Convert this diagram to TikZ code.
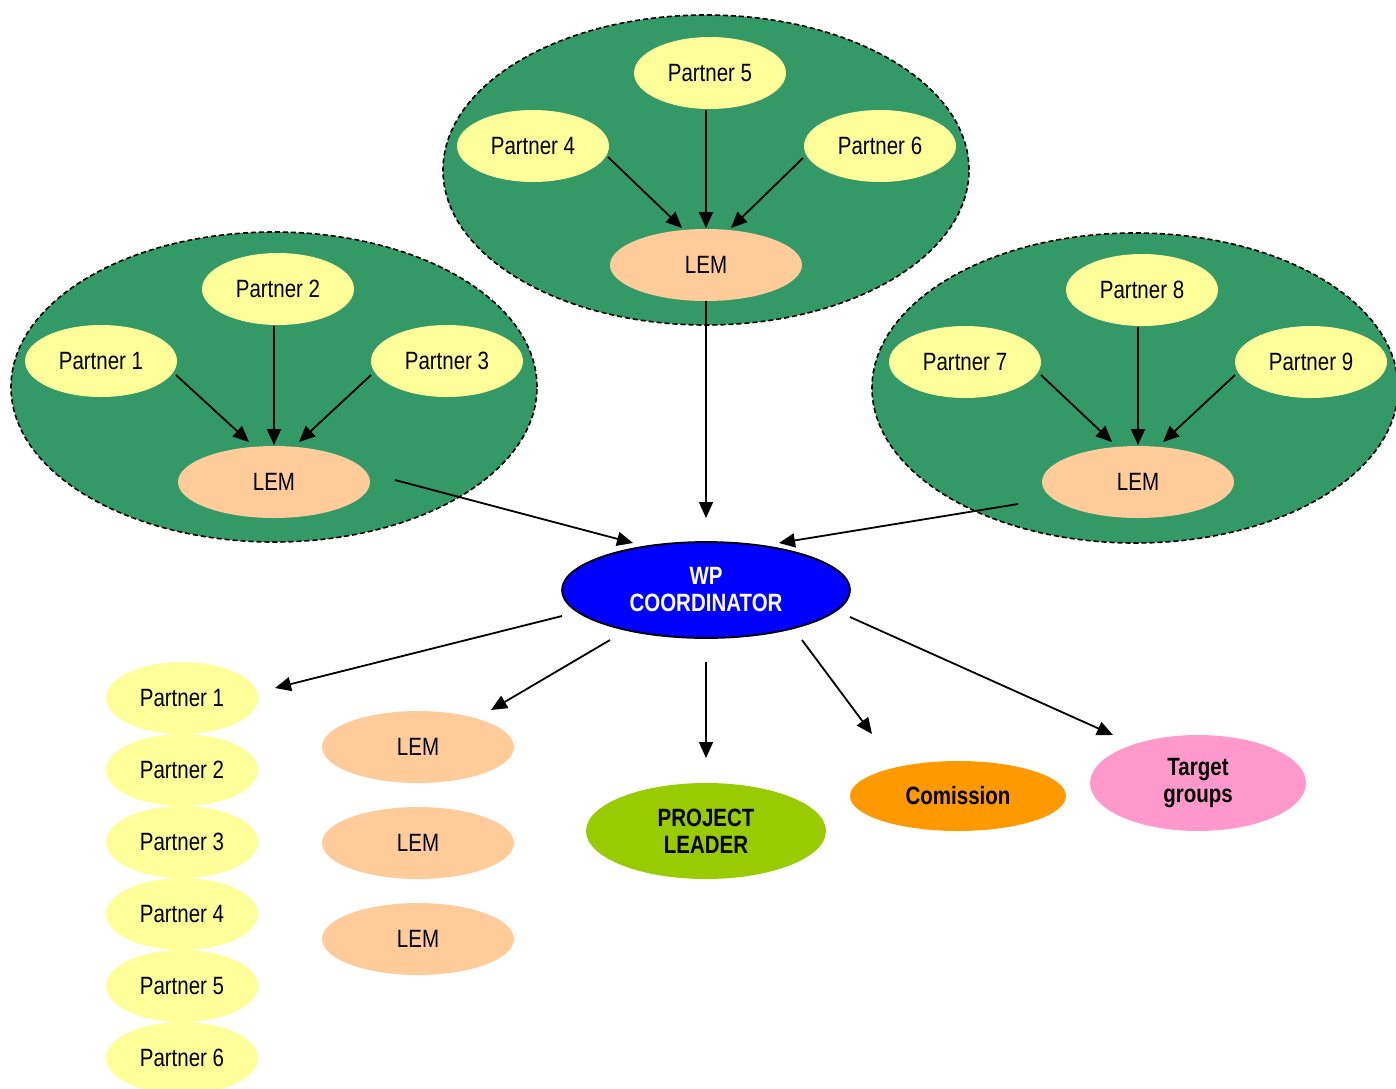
\documentclass[tikz,border=0pt]{standalone}
\usepackage{fontspec}
\setmainfont[FakeStretch=0.82]{Liberation Sans}
\usetikzlibrary{shapes.geometric,arrows.meta,calc}
\definecolor{clgreen}{HTML}{339966}
\definecolor{ptyellow}{HTML}{FFFF99}
\definecolor{lempeach}{HTML}{FFCC99}
\definecolor{wpblue}{HTML}{0000FF}
\definecolor{plgreen}{HTML}{99CC00}
\definecolor{comorange}{HTML}{FF9900}
\definecolor{tgpink}{HTML}{FF99CC}
\begin{document}
\begin{tikzpicture}[x=0.5pt,y=-0.5pt,
  every node/.style={font=\fontsize{12.5}{13.5}\selectfont, align=center},
  cluster/.style={ellipse, fill=clgreen, draw=black, dash pattern=on 2.5pt off 1.5pt, line width=0.8pt, minimum width=263pt, minimum height=155pt, inner sep=0pt},
  ptnode/.style={ellipse, fill=ptyellow, minimum width=76pt, minimum height=36pt, inner sep=0pt},
  lemnode/.style={ellipse, fill=lempeach, minimum width=96pt, minimum height=36pt, inner sep=0pt},
  bignode/.style={ellipse, inner sep=0pt, font=\fontsize{12.5}{13.5}\selectfont\bfseries},
  arr/.style={line width=0.9pt, -{Triangle[length=8pt,width=7pt]}}
]
\useasboundingbox (0,0) rectangle (1396,1088);

% clusters
\node[cluster] (cT) at (706,170) {};
\node[cluster] (cL) at (274,387) {};
\node[cluster] (cR) at (1135,388) {};

% top cluster
\node[ptnode] (p5) at (710,73) {Partner 5};
\node[ptnode] (p4) at (533,146) {Partner 4};
\node[ptnode] (p6) at (880,146) {Partner 6};
\node[lemnode] (lemT) at (706,265) {LEM};

% left cluster
\node[ptnode] (p2) at (278,289) {Partner 2};
\node[ptnode] (p1) at (101,361) {Partner 1};
\node[ptnode] (p3) at (447,361) {Partner 3};
\node[lemnode] (lemL) at (274,482) {LEM};

% right cluster
\node[ptnode] (p8) at (1142,290) {Partner 8};
\node[ptnode] (p7) at (965,362) {Partner 7};
\node[ptnode] (p9) at (1311,362) {Partner 9};
\node[lemnode] (lemR) at (1138,482) {LEM};

% coordinator
\node[bignode, fill=wpblue, draw=black, line width=0.9pt, text=white, minimum width=144pt, minimum height=48pt] (wp) at (706,590) {WP\\COORDINATOR};

% bottom column of partners
\node[ptnode] (b1) at (182,698) {Partner 1};
\node[ptnode] (b2) at (182,770) {Partner 2};
\node[ptnode] (b3) at (182,842) {Partner 3};
\node[ptnode] (b4) at (182,914) {Partner 4};
\node[ptnode] (b5) at (182,986) {Partner 5};
\node[ptnode] (b6) at (182,1058) {Partner 6};

% bottom LEMs
\node[lemnode] (l1) at (418,747) {LEM};
\node[lemnode] (l2) at (418,843) {LEM};
\node[lemnode] (l3) at (418,939) {LEM};

% other targets
\node[bignode, fill=plgreen, minimum width=120pt, minimum height=48pt] (pl) at (706,831) {PROJECT\\LEADER};
\node[bignode, fill=comorange, minimum width=108pt, minimum height=35pt] (com) at (958,796) {Comission};
\node[bignode, fill=tgpink, minimum width=108pt, minimum height=48pt] (tg) at (1198,783) {Target\\groups};

% arrows in top cluster
\draw[arr] ($(p4)+(75,11)$) -- ($(lemT)+(-24,-37)$);
\draw[arr] ($(p5)+(-4,37)$) -- ($(lemT)+(0,-37)$);
\draw[arr] ($(p6)+(-77,12)$) -- ($(lemT)+(25,-37)$);

% arrows in left cluster
\draw[arr] ($(p1)+(75,14)$) -- ($(lemL)+(-25,-40)$);
\draw[arr] ($(p2)+(-4,37)$) -- ($(lemL)+(0,-37)$);
\draw[arr] ($(p3)+(-76,14)$) -- ($(lemL)+(25,-40)$);

% arrows in right cluster
\draw[arr] ($(p7)+(76,13)$) -- ($(lemR)+(-26,-40)$);
\draw[arr] ($(p8)+(-4,37)$) -- ($(lemR)+(0,-37)$);
\draw[arr] ($(p9)+(-76,13)$) -- ($(lemR)+(25,-40)$);

% into coordinator
\draw[arr] ($(lemL)+(121,-2)$) -- ($(wp)+(-73,-47)$);
\draw[arr] (lemT.south) -- ($(wp)+(0,-72)$);
\draw[arr] ($(lemR)+(-120,22)$) -- ($(wp)+(73,-47)$);

% out of coordinator
\draw[arr] ($(wp)+(-144,26)$) -- ($(b1)+(93,-10)$);
\draw[arr] ($(wp)+(-96,50)$) -- ($(l1)+(73,-37)$);
\draw[arr] ($(wp)+(0,72)$) -- ($(pl)+(0,-73)$);
\draw[arr] ($(wp)+(96,50)$) -- ($(com)+(-86,-62)$);
\draw[arr] ($(wp)+(144,27)$) -- ($(tg)+(-85,-48)$);
\end{tikzpicture}
\end{document}
